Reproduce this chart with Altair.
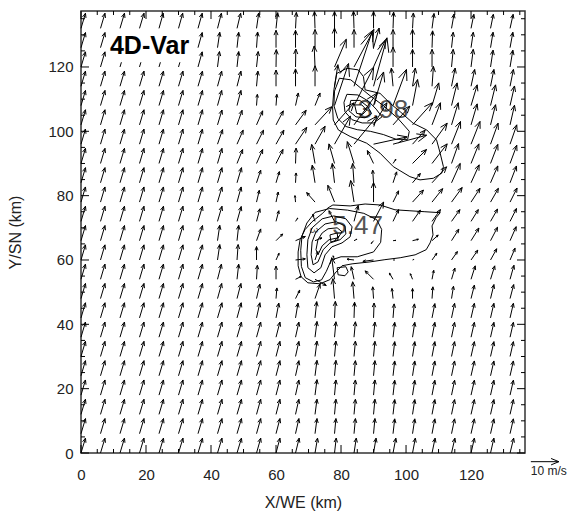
import math
import altair as alt
import pandas as pd

# ---------------------------------------------------------------------------
# Horizontal wind analysis (m/s) on a 6 km grid, rows from north to south
# ---------------------------------------------------------------------------
X_KM = [0, 6, 12, 18, 24, 30, 36, 42, 48, 54, 60, 66, 72, 78, 84, 90, 96, 102, 108, 114, 120, 126, 132]
ROW_Y = [132, 126, 120, 114, 108, 102, 96, 90, 84, 78, 72, 66, 60, 54, 48, 42, 36, 30, 24, 18, 12, 6, 0]

U_ROWS = [
    [1.6, 1.6, 1.6, 1.6, 1.5, 1.5, 1.5, 1.4, 1.3, 0.8, 0.6, 0.3, -0.2, 0.0, -0.2, 0.0, 0.2, 0.3, 0.7, 0.9, 1.0, 1.0, 1.1],
    [1.6, 1.6, 1.6, 1.6, 1.6, 1.5, 1.5, 0.8, 0.6, 0.4, 0.0, 0.0, 0.0, 0.0, 0.0, 2.0, 0.0, 0.0, 0.2, 0.6, 0.8, 0.9, 1.0],
    [1.6, 1.6, 1.6, 1.6, 1.6, 1.6, 1.5, 0.7, 0.6, 0.6, 0.1, 0.1, -0.3, 4.2, 7.1, 4.2, 0.0, 0.0, 0.0, 0.6, 0.8, 0.9, 1.0],
    [1.6, 1.6, 1.6, 1.6, 1.6, 1.6, 1.6, 1.5, 1.4, 0.5, 0.0, 0.0, 0.0, 1.2, 6.5, 4.8, -0.6, 1.0, 0.5, 1.3, 1.3, 1.2, 1.2],
    [1.6, 1.6, 1.6, 1.6, 1.6, 1.6, 1.6, 1.5, 1.4, 0.3, 0.3, 1.0, 1.8, 5.0, 7.0, 3.6, 4.8, 1.8, 2.4, 2.0, 2.2, 1.8, 1.6],
    [1.6, 1.6, 1.6, 1.6, 1.6, 1.6, 1.6, 1.6, 1.8, 2.2, 2.6, 3.8, 6.0, 7.0, 8.3, 4.8, 6.0, 7.1, 3.0, 2.4, 2.2, 1.8, 1.6],
    [1.6, 1.6, 1.6, 1.6, 1.6, 1.6, 1.6, 1.8, 2.2, 2.5, 2.8, 4.0, 3.6, 5.7, 8.2, 12.0, 12.0, 4.5, 5.4, 3.2, 3.2, 2.7, 2.4],
    [1.6, 1.6, 1.6, 1.6, 1.6, 1.6, 1.6, 1.6, 2.0, 2.2, 2.5, 0.2, -1.2, -2.0, -2.4, -2.2, 1.0, 5.0, 5.4, 2.5, 2.8, 2.6, 2.4],
    [1.6, 1.6, 1.6, 1.6, 1.6, 1.6, 1.6, 1.6, 1.6, 1.5, 1.2, 0.2, -1.0, -0.8, -0.5, -0.3, 1.3, 2.8, 5.2, 3.1, 2.9, 2.6, 2.3],
    [1.6, 1.6, 1.6, 1.6, 1.6, 1.6, 1.6, 1.6, 1.5, 1.0, 0.8, -0.2, -3.0, -2.4, -1.2, 0.0, 2.0, 3.9, 3.8, 3.8, 3.2, 2.8, 2.5],
    [1.6, 1.6, 1.6, 1.6, 1.6, 1.6, 1.6, 1.6, 1.5, 1.2, 1.0, 0.8, -0.8, -2.0, 1.5, 3.6, 2.0, 2.8, 3.0, 3.0, 2.6, 2.5, 2.3],
    [1.6, 1.6, 1.6, 1.6, 1.6, 1.6, 1.6, 0.8, 0.6, 1.5, 2.4, 3.5, 2.5, 1.5, 1.0, -0.8, 1.0, 2.1, 2.2, 2.6, 2.8, 2.5, 2.2],
    [1.6, 1.6, 1.6, 1.6, 1.6, 1.6, 1.6, 0.8, 0.4, 0.0, 1.1, 3.5, 1.0, -0.5, -2.5, -3.8, 0.5, 0.5, 1.7, 2.1, 2.4, 2.2, 1.8],
    [1.6, 1.6, 1.6, 1.6, 1.6, 1.6, 1.6, 1.4, 0.6, 0.3, 0.0, 2.0, 4.0, -1.0, -1.0, -3.0, -1.3, -0.8, 0.6, 1.2, 1.5, 1.5, 1.4],
    [1.6, 1.6, 1.6, 1.6, 1.6, 1.6, 1.6, 1.5, 1.4, 1.2, 0.3, 1.5, 1.8, -0.6, -0.5, -0.3, -0.4, 0.0, 0.3, 0.7, 1.2, 1.2, 1.3],
    [1.6, 1.6, 1.6, 1.6, 1.6, 1.6, 1.6, 1.6, 1.5, 1.2, 1.0, 0.9, 0.6, 0.3, 0.2, 0.2, 0.4, 0.7, 1.0, 1.1, 1.2, 1.2, 1.2],
    [1.6, 1.6, 1.6, 1.6, 1.6, 1.6, 1.6, 1.6, 1.6, 1.5, 1.4, 1.2, 0.7, 0.5, 0.5, 0.5, 0.6, 0.8, 1.0, 1.1, 1.2, 1.2, 1.2],
    [1.6, 1.6, 1.6, 1.6, 1.6, 1.6, 1.6, 1.6, 1.6, 1.5, 1.4, 1.2, 0.7, 0.5, 0.5, 0.5, 0.6, 0.8, 1.0, 1.1, 1.2, 1.2, 1.2],
    [1.6, 1.6, 1.6, 1.6, 1.6, 1.6, 1.6, 1.6, 1.6, 1.5, 1.4, 1.2, 0.7, 0.5, 0.5, 0.5, 0.6, 0.8, 1.0, 1.1, 1.2, 1.2, 1.2],
    [1.6, 1.6, 1.6, 1.6, 1.6, 1.6, 1.6, 1.6, 1.6, 1.5, 1.4, 1.2, 0.7, 0.5, 0.5, 0.5, 0.6, 0.8, 1.0, 1.1, 1.2, 1.2, 1.2],
    [1.6, 1.6, 1.6, 1.6, 1.6, 1.6, 1.6, 1.6, 1.6, 1.5, 1.4, 1.2, 0.7, 0.5, 0.5, 0.5, 0.6, 0.8, 1.0, 1.1, 1.2, 1.2, 1.2],
    [1.6, 1.6, 1.6, 1.6, 1.6, 1.6, 1.6, 1.6, 1.6, 1.5, 1.4, 1.2, 0.7, 0.5, 0.5, 0.5, 0.6, 0.8, 1.0, 1.1, 1.2, 1.2, 1.2],
    [1.6, 1.6, 1.6, 1.6, 1.6, 1.6, 1.6, 1.6, 1.6, 1.5, 1.4, 1.3, 0.9, 0.6, 0.8, 0.9, 1.0, 1.0, 1.1, 1.2, 1.2, 1.2, 1.3],
]

V_ROWS = [
    [5.4, 5.4, 5.4, 5.4, 5.4, 5.4, 5.4, 5.4, 5.4, 5.5, 5.6, 5.7, 6.0, 6.0, 6.1, 6.0, 5.8, 5.5, 5.3, 5.1, 5.0, 5.0, 5.0],
    [5.4, 5.4, 5.4, 5.4, 5.4, 5.4, 5.4, 5.5, 5.5, 5.6, 6.2, 6.2, 6.5, 7.0, 6.5, 7.0, 6.5, 6.5, 6.0, 5.5, 5.5, 5.5, 5.5],
    [5.4, 5.4, 5.4, 5.4, 5.4, 5.4, 5.4, 5.5, 5.5, 5.5, 6.2, 6.4, 7.5, 9.9, 13.4, 9.5, 7.1, 6.3, 6.3, 6.3, 6.3, 6.0, 6.0],
    [5.4, 5.4, 5.4, 5.4, 5.4, 5.4, 5.4, 5.4, 5.4, 5.4, 5.8, 6.2, 7.3, 7.7, 19.6, 17.3, 6.5, 6.5, 7.1, 6.5, 6.0, 6.0, 6.0],
    [5.4, 5.4, 5.4, 5.4, 5.4, 5.4, 5.4, 5.4, 5.4, 4.0, 4.0, 4.5, 4.5, 15.0, 13.7, 12.0, 12.9, 9.3, 8.1, 8.1, 7.4, 7.4, 7.0],
    [5.4, 5.4, 5.4, 5.4, 5.4, 5.4, 5.4, 5.3, 5.2, 5.0, 5.0, 5.2, 6.5, 7.9, 11.4, 7.9, 6.7, 7.9, 7.9, 7.9, 7.5, 7.2, 7.0],
    [5.4, 5.4, 5.4, 5.4, 5.4, 5.4, 5.4, 5.2, 5.0, 5.0, 5.0, 6.0, 6.4, 10.0, 10.0, 2.6, 3.2, 5.0, 7.5, 8.1, 8.1, 7.5, 6.9],
    [5.4, 5.4, 5.4, 5.4, 5.4, 5.4, 5.4, 5.4, 5.0, 5.0, 5.0, 5.5, 6.8, 7.0, 7.8, 4.6, 1.5, 5.0, 7.0, 7.1, 7.0, 6.8, 6.5],
    [5.4, 5.4, 5.4, 5.4, 5.4, 5.4, 5.4, 5.4, 5.4, 4.5, 4.0, 3.5, 6.3, 6.9, 6.9, 4.5, 3.9, 3.3, 5.7, 6.9, 6.4, 6.0, 6.0],
    [5.4, 5.4, 5.4, 5.4, 5.4, 5.4, 5.4, 5.4, 5.4, 4.2, 3.6, 2.3, 3.4, 6.0, 7.7, 7.0, 4.0, 4.3, 4.8, 5.2, 4.9, 4.9, 5.0],
    [5.4, 5.4, 5.4, 5.4, 5.4, 5.4, 5.4, 5.4, 5.3, 4.5, 3.8, 1.2, 2.5, 3.8, 5.7, 6.9, 4.2, 4.0, 4.2, 4.2, 4.2, 4.4, 4.6],
    [5.4, 5.4, 5.4, 5.4, 5.4, 5.4, 5.4, 5.5, 5.5, 4.2, 2.4, 1.5, 1.0, 1.5, 0.5, -1.0, 0.1, 0.5, 2.0, 4.1, 4.5, 4.8, 5.0],
    [5.4, 5.4, 5.4, 5.4, 5.4, 5.4, 5.4, 5.5, 5.5, 4.8, 2.4, 0.4, 3.0, 1.5, 0.3, -0.5, 0.0, 0.2, 2.4, 3.0, 3.5, 4.0, 4.2],
    [5.4, 5.4, 5.4, 5.4, 5.4, 5.4, 5.4, 5.4, 5.4, 5.0, 4.7, 1.0, -2.2, 7.7, 4.5, 3.0, 2.2, 2.0, 3.2, 4.0, 4.8, 4.8, 5.0],
    [5.4, 5.4, 5.4, 5.4, 5.4, 5.4, 5.4, 5.4, 5.4, 5.2, 3.8, 3.0, 5.2, 7.1, 6.0, 4.2, 3.6, 3.6, 4.2, 4.4, 4.8, 5.0, 5.0],
    [5.4, 5.4, 5.4, 5.4, 5.4, 5.4, 5.4, 5.4, 5.4, 5.4, 5.3, 5.3, 5.8, 5.9, 5.6, 5.3, 5.0, 5.0, 5.1, 5.2, 5.2, 5.2, 5.2],
    [5.4, 5.4, 5.4, 5.4, 5.4, 5.4, 5.4, 5.4, 5.4, 5.4, 5.4, 5.4, 5.6, 5.5, 5.5, 5.4, 5.3, 5.3, 5.3, 5.3, 5.3, 5.3, 5.3],
    [5.4, 5.4, 5.4, 5.4, 5.4, 5.4, 5.4, 5.4, 5.4, 5.4, 5.4, 5.4, 5.5, 5.5, 5.5, 5.4, 5.3, 5.3, 5.3, 5.3, 5.3, 5.3, 5.3],
    [5.4, 5.4, 5.4, 5.4, 5.4, 5.4, 5.4, 5.4, 5.4, 5.4, 5.4, 5.4, 5.5, 5.5, 5.4, 5.4, 5.3, 5.3, 5.3, 5.3, 5.3, 5.3, 5.3],
    [5.4, 5.4, 5.4, 5.4, 5.4, 5.4, 5.4, 5.4, 5.4, 5.4, 5.4, 5.4, 5.5, 5.4, 5.4, 5.4, 5.3, 5.3, 5.3, 5.3, 5.3, 5.3, 5.3],
    [5.4, 5.4, 5.4, 5.4, 5.4, 5.4, 5.4, 5.4, 5.4, 5.4, 5.4, 5.4, 5.4, 5.4, 5.4, 5.4, 5.3, 5.3, 5.3, 5.3, 5.3, 5.3, 5.3],
    [5.4, 5.4, 5.4, 5.4, 5.4, 5.4, 5.4, 5.4, 5.4, 5.4, 5.4, 5.4, 5.4, 5.4, 5.4, 5.4, 5.3, 5.3, 5.3, 5.3, 5.3, 5.3, 5.3],
    [5.3, 5.3, 5.3, 5.3, 5.3, 5.3, 5.3, 5.3, 5.3, 5.3, 5.3, 5.3, 5.3, 5.3, 5.3, 5.3, 5.3, 5.3, 5.3, 5.3, 5.3, 5.3, 5.3],
]

# reference vector drawn below the lower-right corner
REF_SPEED = 10.0
REF_TAIL = (138.4, -2.7)
REF_LABEL = "10 m/s"

# ---------------------------------------------------------------------------
# Contours of the two convective cells (km)
# ---------------------------------------------------------------------------
SOUTH_CELL = [
    [(77.5, 77.1), (82.8, 76.8), (87.4, 77.4), (92.0, 77.1), (96.6, 75.6), (101.2, 75.3), (105.8, 75.0),
     (110.5, 74.7), (109.2, 73.1), (108.0, 70.6), (108.3, 67.8), (107.4, 65.3), (106.2, 63.2), (102.8, 61.6),
     (98.2, 60.7), (93.5, 60.1), (88.9, 59.4), (83.4, 58.8), (80.3, 58.2), (78.5, 56.3), (76.6, 53.9),
     (73.5, 52.6), (69.8, 52.9), (67.7, 54.8), (66.8, 58.2), (66.8, 62.5), (67.4, 66.3), (68.9, 69.4),
     (71.1, 71.9), (74.2, 74.4), (76.0, 76.2)],
    [(72.0, 74.8), (76.5, 76.0), (82.0, 75.5), (87.0, 74.5), (91.0, 72.5), (92.5, 69.5), (92.2, 65.5),
     (90.0, 62.5), (85.0, 61.0), (80.0, 61.0), (77.0, 60.0), (75.5, 56.5), (74.0, 53.8), (71.5, 53.2),
     (69.0, 54.5), (67.8, 58.0), (67.6, 63.0), (68.0, 67.5), (69.5, 71.5)],
    [(74.2, 72.8), (77.8, 73.7), (81.5, 72.8), (83.4, 70.3), (82.8, 67.2), (80.3, 65.3), (77.2, 64.1),
     (75.1, 61.6), (73.8, 57.6), (71.7, 56.0), (69.8, 57.6), (69.5, 61.6), (69.8, 66.3), (71.1, 70.0)],
    [(75.1, 71.2), (78.5, 71.9), (81.2, 70.6), (81.5, 68.1), (79.7, 66.3), (76.6, 65.3), (74.5, 63.2),
     (72.9, 59.4), (71.4, 58.5), (70.8, 61.6), (71.1, 65.6), (72.3, 68.8)],
    [(76.0, 69.7), (78.8, 70.0), (80.3, 68.8), (79.1, 66.9), (76.3, 66.3), (74.2, 64.4), (72.9, 61.6),
     (72.3, 63.2), (72.9, 66.3), (74.2, 68.4)],
    [(76.6, 67.8), (78.8, 68.4), (79.1, 66.3), (76.9, 65.6)],
    [(78.8, 57.6), (81.5, 57.9), (82.2, 56.3), (81.2, 55.1), (79.1, 55.4)],
]

NORTH_CELL = [
    [(78.7, 118.0), (81.8, 119.6), (85.3, 119.1), (86.9, 117.0), (87.4, 112.9), (92.0, 111.8), (95.1, 108.7),
     (98.2, 106.1), (102.2, 102.5), (106.4, 100.4), (109.4, 97.3), (110.5, 93.2), (111.5, 89.0), (111.0, 87.0),
     (108.4, 85.4), (104.3, 84.9), (101.2, 85.9), (96.1, 89.0), (92.0, 93.2), (87.9, 96.3), (82.8, 98.4),
     (79.2, 100.4), (77.6, 103.5), (77.4, 107.7), (77.8, 112.9)],
    [(79.5, 116.5), (83.0, 116.0), (86.0, 113.5), (89.0, 111.0), (93.0, 108.0), (97.5, 104.0), (101.0, 100.0),
     (100.5, 97.5), (97.0, 97.5), (93.0, 99.0), (89.0, 100.0), (85.0, 100.5), (81.5, 101.5), (79.0, 104.0),
     (77.8, 108.0), (78.0, 112.5)],
    [(81.8, 111.5), (85.2, 111.3), (88.4, 109.4), (90.8, 106.9), (92.6, 104.5), (90.1, 102.6), (86.5, 102.6),
     (83.4, 103.6), (81.2, 106.1), (80.9, 109.0)],
    [(83.0, 109.6), (85.8, 109.6), (88.2, 107.7), (89.4, 105.5), (87.4, 104.2), (84.6, 104.5), (82.4, 106.4)],
    [(84.2, 108.2), (86.4, 108.2), (87.9, 106.6), (86.6, 105.2), (84.8, 105.6)],
]

CELL_MAX_TEXT = ["3.98", "5.47"]
CELL_MAX_X = [92.9, 85.1]
CELL_MAX_Y = [106.6, 70.6]

LEVEL_TEXT = "3"
LEVEL_POS = (71.4, 69.2)

PANEL_TITLE = "4D-Var"
PANEL_TITLE_POS = (8.9, 124.1)
PANEL_BOX_X = (7.7, 35.6)
PANEL_BOX_Y = (121.5, 131.0)

X_LABELS = [0, 20, 40, 60, 80, 100, 120]
Y_LABELS = [0, 20, 40, 60, 80, 100, 120]
MINOR_STEP_VALUES = [0, 5, 10, 15, 20, 25, 30, 35, 40, 45, 50, 55, 60, 65, 70, 75, 80, 85, 90, 95,
                     100, 105, 110, 115, 120, 125, 130, 135]

# ---------------------------------------------------------------------------
# Geometry
# ---------------------------------------------------------------------------
W, H = 444, 442
X_MAX, Y_MAX = 136.6, 137.4
SX, SY = W / X_MAX, H / Y_MAX          # pixels per km
PX_PER_MS = 2.8                        # arrow length per m/s
HEAD_FRAC = 0.3
HEAD_ANGLE = math.radians(22.5)
FONT = "Liberation Sans"
INK = "#222222"


def arrow_segments(x0, y0, u, v):
    dx, dy = u * PX_PER_MS, v * PX_PER_MS
    length = math.hypot(dx, dy)
    x1, y1 = x0 + dx / SX, y0 + dy / SY
    segs = [(x0, y0, x1, y1)]
    if length > 0:
        bx, by = -dx * HEAD_FRAC, -dy * HEAD_FRAC
        for s in (1, -1):
            c, sn = math.cos(HEAD_ANGLE), math.sin(s * HEAD_ANGLE)
            hx = bx * c - by * sn
            hy = bx * sn + by * c
            segs.append((x1, y1, x1 + hx / SX, y1 + hy / SY))
    return segs


segments = []
for y0, urow, vrow in zip(ROW_Y, U_ROWS, V_ROWS):
    for x0, u, v in zip(X_KM, urow, vrow):
        segments += arrow_segments(x0, y0, u, v)
segments += arrow_segments(REF_TAIL[0], REF_TAIL[1], REF_SPEED, 0.0)
seg_df = pd.DataFrame(segments, columns=["x", "y", "x2", "y2"])

# inward tick marks on all four sides
tick_rows = []
for t in MINOR_STEP_VALUES:
    major = t in X_LABELS
    lx = (8 if major else 4) / SX
    ly = (8 if major else 4) / SY
    if t <= X_MAX:
        tick_rows.append((t, 0, t, ly))
        tick_rows.append((t, Y_MAX, t, Y_MAX - ly))
    if t <= Y_MAX:
        tick_rows.append((0, t, lx, t))
        tick_rows.append((X_MAX, t, X_MAX - lx, t))
tick_df = pd.DataFrame(tick_rows, columns=["x", "y", "x2", "y2"])

contour_rows = []
for name, rings in (("s", SOUTH_CELL), ("n", NORTH_CELL)):
    for r, ring in enumerate(rings):
        closed = ring + [ring[0]]
        for k, (cx, cy) in enumerate(closed):
            contour_rows.append({"cid": f"{name}{r}", "k": k, "x": cx, "y": cy})
contour_df = pd.DataFrame(contour_rows)

max_df = pd.DataFrame({"x": CELL_MAX_X, "y": CELL_MAX_Y, "label": CELL_MAX_TEXT})
level_df = pd.DataFrame({"x": [LEVEL_POS[0]], "y": [LEVEL_POS[1]], "label": [LEVEL_TEXT]})
ref_df = pd.DataFrame({"x": [REF_TAIL[0]], "y": [REF_TAIL[1]], "label": [REF_LABEL]})
title_df = pd.DataFrame({"x": [PANEL_TITLE_POS[0]], "y": [PANEL_TITLE_POS[1]], "label": [PANEL_TITLE]})
box_df = pd.DataFrame({"x": [PANEL_BOX_X[0]], "x2": [PANEL_BOX_X[1]],
                       "y": [PANEL_BOX_Y[0]], "y2": [PANEL_BOX_Y[1]]})

# ---------------------------------------------------------------------------
# Scales and axes
# ---------------------------------------------------------------------------
x_scale = alt.Scale(domain=[0, X_MAX], nice=False, zero=False)
y_scale = alt.Scale(domain=[0, Y_MAX], nice=False, zero=False)
x_axis = alt.Axis(values=X_LABELS, ticks=False, tickSize=0, domain=False, grid=False,
                  labelFont=FONT, labelFontSize=15, labelColor=INK, labelPadding=14,
                  labelFlush=False, labelOverlap=False,
                  title="X/WE (km)", titleFont=FONT, titleFontSize=16, titleFontWeight="normal",
                  titleColor=INK, titlePadding=12)
y_axis = alt.Axis(values=Y_LABELS, ticks=False, tickSize=0, domain=False, grid=False,
                  labelFont=FONT, labelFontSize=15, labelColor=INK, labelPadding=8,
                  labelFlush=False, labelOverlap=False,
                  title="Y/SN (km)", titleFont=FONT, titleFontSize=16, titleFontWeight="normal",
                  titleColor=INK, titlePadding=24)


def xenc(field="x"):
    return alt.X(f"{field}:Q", scale=x_scale, axis=x_axis)


def yenc(field="y"):
    return alt.Y(f"{field}:Q", scale=y_scale, axis=y_axis)


arrows = alt.Chart(seg_df).mark_rule(color="black", strokeWidth=1).encode(
    x=xenc(), y=yenc(), x2="x2:Q", y2="y2:Q")

ticks = alt.Chart(tick_df).mark_rule(color="black", strokeWidth=1).encode(
    x=xenc(), y=yenc(), x2="x2:Q", y2="y2:Q")

max_text = alt.Chart(max_df).mark_text(
    font=FONT, fontSize=26, color="#555555", align="center", baseline="middle").encode(
    x=xenc(), y=yenc(), text="label:N")

level_text = alt.Chart(level_df).mark_text(
    font=FONT, fontSize=11, color="#555555", angle=90, align="center", baseline="middle").encode(
    x=xenc(), y=yenc(), text="label:N")

contours = alt.Chart(contour_df).mark_line(color="black", strokeWidth=1).encode(
    x=xenc(), y=yenc(), detail="cid:N", order="k:Q")

box = alt.Chart(box_df).mark_rect(color="white").encode(
    x=xenc(), y=yenc(), x2="x2:Q", y2="y2:Q")

panel_title = alt.Chart(title_df).mark_text(
    font=FONT, fontSize=25, fontWeight="bold", color="black", align="left",
    baseline="alphabetic").encode(x=xenc(), y=yenc(), text="label:N")

ref_text = alt.Chart(ref_df).mark_text(
    font=FONT, fontSize=12, color=INK, align="left", baseline="top", dy=4).encode(
    x=xenc(), y=yenc(), text="label:N")

chart = alt.layer(
    max_text, level_text, arrows, contours, box, panel_title, ref_text, ticks
).properties(
    width=W, height=H,
    padding={"left": 81, "top": 11, "right": 56, "bottom": 62},
    autosize=alt.AutoSizeParams(type="none"),
    background="white",
).configure_view(stroke="#333333", strokeWidth=1.5)

chart.save("out.html", embed_options={"renderer": "svg", "actions": False})
